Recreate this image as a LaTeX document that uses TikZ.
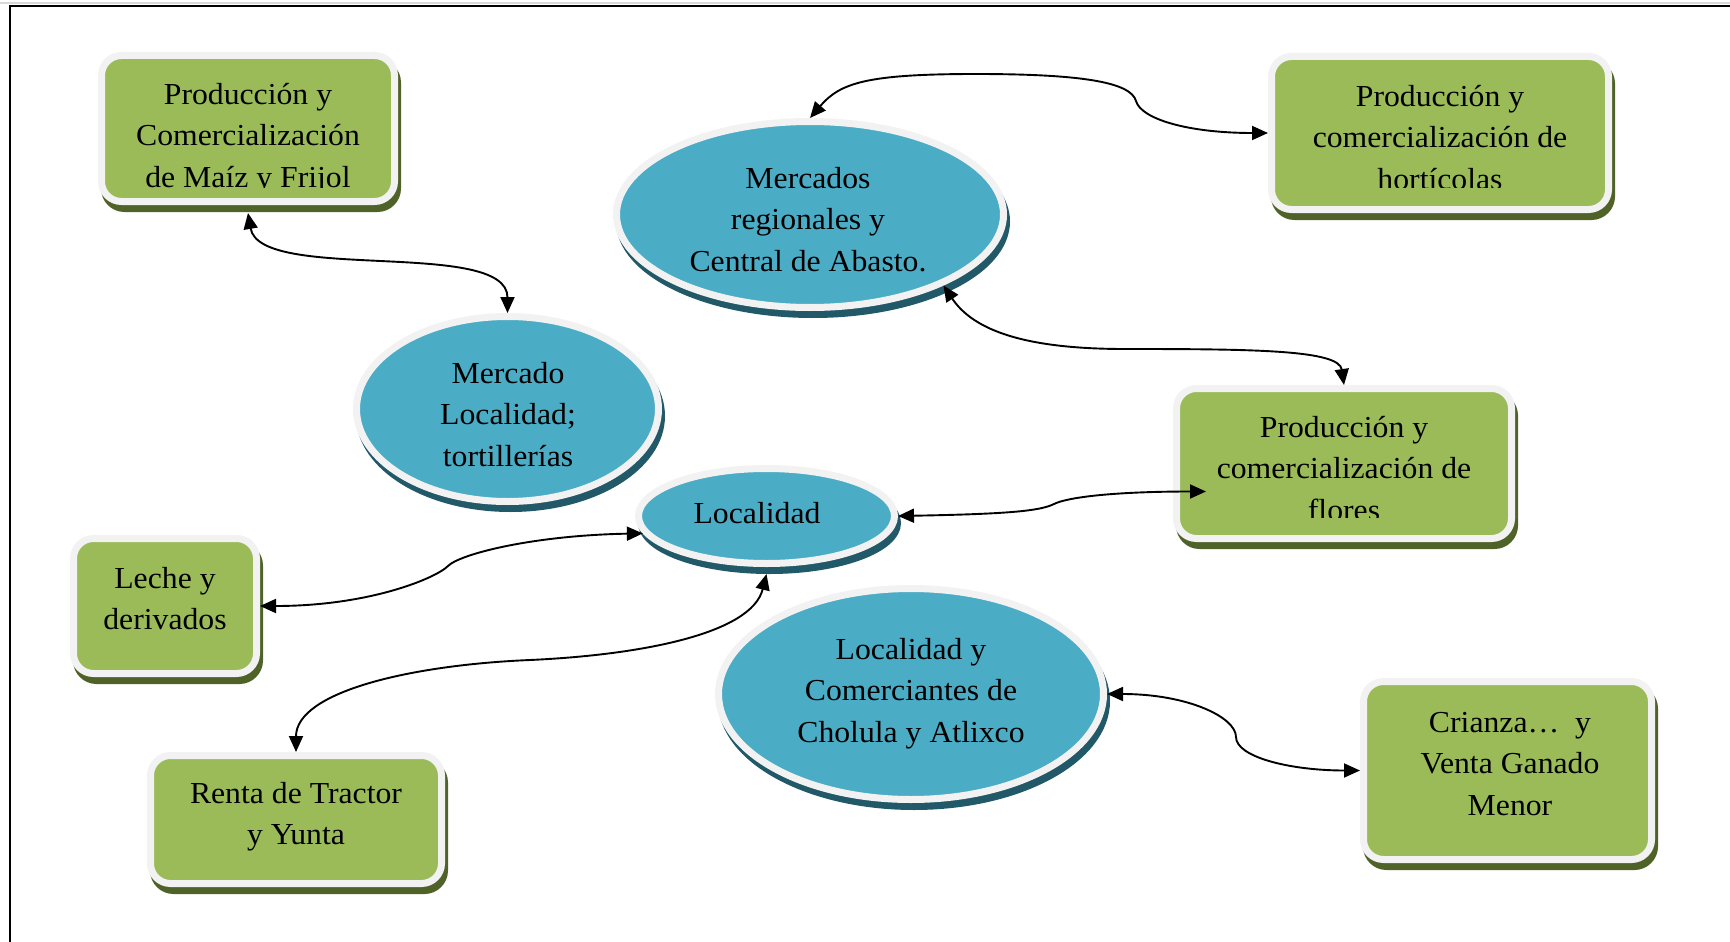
\documentclass[tikz,border=0pt]{standalone}
\usepackage{fontspec}
\setmainfont{Liberation Serif}[FakeStretch=1.04]
\usetikzlibrary{arrows.meta,calc,shapes.geometric}
\definecolor{boxgreen}{HTML}{9BBB59}
\definecolor{boxshade}{HTML}{4F6228}
\definecolor{ovalblue}{HTML}{4BACC6}
\definecolor{ovalshade}{HTML}{215968}
\definecolor{rimgray}{HTML}{F2F2F2}
\newcommand\labelfont{\fontsize{30.5}{41.5}\selectfont}

\begin{document}
\begin{tikzpicture}[x=1pt,y=-1pt,
  card/.style={rectangle, rounded corners=20pt, draw=rimgray, line width=7pt,
    fill=boxgreen, inner sep=0pt,
    preaction={draw=boxshade, fill=boxshade, line width=7pt,
      transform canvas={xshift=3pt,yshift=-7pt}}},
  oval/.style={ellipse, draw=rimgray, line width=7pt, fill=ovalblue, inner sep=0pt,
    preaction={draw=ovalshade, fill=ovalshade, line width=7pt,
      transform canvas={xshift=3pt,yshift=-7pt}}},
  lbl/.style={inner sep=0pt, anchor=north, align=center, font=\labelfont},
  link/.style={line width=1.9pt, >={Triangle[length=16pt,width=14pt]}, <->}]

\useasboundingbox (0,0) rectangle (1730,942);

% page frame
\draw[gray!30, line width=1.5pt] (0,3) -- (1730,3);
\draw[line width=1.8pt] (1730,6) -- (10,6) -- (10,942);

% green boxes
\node[card, minimum width=293pt, minimum height=146pt] (b1) at (248,128.5) {};
\node[card, minimum width=337pt, minimum height=153pt] (b2) at (1440,133) {};
\node[card, minimum width=335pt, minimum height=150pt] (b3) at (1344,463.5) {};
\node[card, minimum width=183pt, minimum height=135pt] (b4) at (165,606) {};
\node[card, minimum width=291pt, minimum height=128pt] (b5) at (296,819.5) {};
\node[card, minimum width=288pt, minimum height=178pt] (b6) at (1507.5,770.5) {};

% blue ellipses
\node[oval, minimum width=387pt, minimum height=186pt] (e1) at (810,214.5) {};
\node[oval, minimum width=256pt, minimum height=95pt] (e3) at (766.5,516) {};
\node[oval, minimum width=302pt, minimum height=185pt] (e2) at (507.5,409) {};
\node[oval, minimum width=385pt, minimum height=211pt] (e4) at (911,694) {};

% texts (the upper boxes cut their last line)
\begin{scope}
  \clip (0,0) rectangle (1730,187.5);
  \node[lbl] (t1) at (248,75) {\strut Producción y\\Comercialización\\de Maíz y Frijol};
  \node[lbl] (t2) at (1440,77) {\strut Producción y\\comercialización de\\hortícolas};
\end{scope}
\begin{scope}
  \clip (0,300) rectangle (1730,517.5);
  \node[lbl] (t3) at (1344,408) {\strut Producción y\\comercialización de\\flores};
\end{scope}
\node[lbl] (t4) at (165,559) {\strut Leche y\\derivados};
\node[lbl] (t5) at (296,774) {\strut Renta de Tractor\\y Yunta};
\node[lbl] (t6) at (1510,703) {\strut Crianza…\ \ y\\Venta Ganado\\Menor};
\node[lbl] (t7) at (808,159) {\strut Mercados\\regionales y\\Central de Abasto.};
\node[lbl] (t8) at (508,354) {\strut Mercado\\Localidad;\\tortillerías};
\node[lbl] (t9) at (757,494) {\strut Localidad};
\node[lbl] (t10) at (911,630) {\strut Localidad y\\Comerciantes de\\Cholula y Atlixco};

% bend points of the connectors
\coordinate (k2a) at (976,74);
\coordinate (k2b) at (1136,101);
\coordinate (k3) at (1125,349);
\coordinate (k4) at (1054,504);
\coordinate (k5) at (448,566);
\coordinate (k6) at (530,660);
\coordinate (k7) at (1236,737);
\coordinate (p4) at ($(b3.west)+(33,28)$);

% connectors
\draw[link] ([yshift=-8pt]b1.south) .. controls +(12,70) and +(0,-75) .. (e2.north);
\draw[link] (e1.north) .. controls +(30,-35) and +(-110,0) .. (k2a)
  .. controls +(110,0) and +(-5,-18) .. (k2b)
  .. controls +(5,18) and +(-80,0) .. (b2.west);
\draw[link] (e1.-28) .. controls +(30,45) and +(-100,0) .. (k3)
  .. controls +(130,0) and +(-5,-35) .. (b3.north);
\draw[link] (e3.east) .. controls +(110,-2) and +(-14,7) .. (k4)
  .. controls +(14,-7) and +(-90,0) .. (p4);
\draw[link] (e3.188) .. controls +(-110,2) and +(12,-12) .. (k5)
  .. controls +(-12,12) and +(110,0) .. (b4.east);
\draw[link] ([yshift=-7pt]e3.south) .. controls +(-15,60) and +(110,-5) .. (k6)
  .. controls +(-120,5) and +(0,-60) .. (b5.north);
\draw[link] (e4.east) .. controls +(80,0) and +(0,-20) .. (k7)
  .. controls +(0,20) and +(-70,0) .. (b6.west);
\end{tikzpicture}
\end{document}
